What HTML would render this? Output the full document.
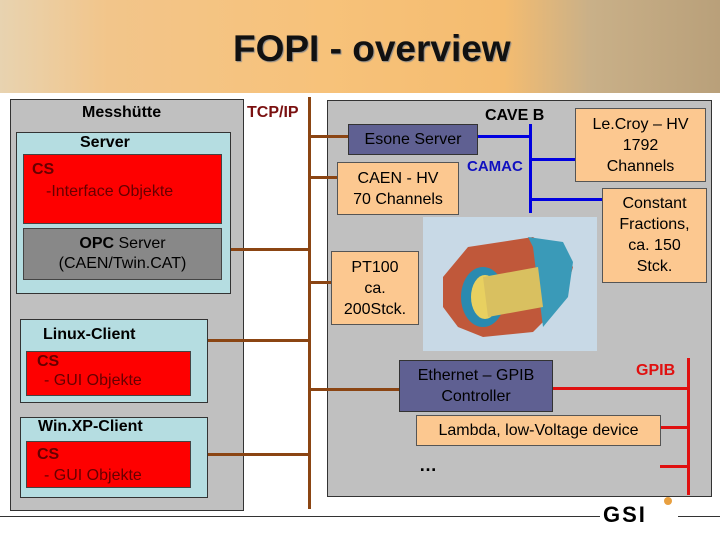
<!DOCTYPE html>
<html><head><meta charset="utf-8"><style>
body{margin:0;width:720px;height:540px;position:relative;overflow:hidden;background:#fff;font-family:"Liberation Sans",sans-serif}
.a{position:absolute;box-sizing:border-box}
.t{position:absolute;white-space:nowrap}
.box{border:1px solid #333}
.org{background:#fcc890;border:1px solid #555;text-align:center;font-size:16px;color:#000;line-height:21px}
.blu{background:#5f6092;border:1px solid #333;text-align:center;font-size:16px;color:#000;line-height:21px}
.red{background:#fe0000;border:1px solid #444;font-size:16px;color:#600}
.ln{position:absolute;background:#8b4513}
</style></head><body>
<div class="a" style="left:0;top:0;width:720px;height:93px;background:linear-gradient(90deg,#e8d3b0 0%,#f2c58a 15%,#f7c27a 45%,#f4bc70 70%,#c9b088 82%,#b9a07a 100%)"></div>
<div class="t" style="left:233px;top:28px;font-family:'Liberation Sans Narrow','Liberation Sans',sans-serif;font-weight:bold;font-size:37px;color:#111;text-shadow:1px 1px 1px #888">FOPI - overview</div>

<!-- Messhuette -->
<div class="a box" style="left:10px;top:99px;width:234px;height:412px;background:#c0c0c0"></div>
<div class="t" style="left:82px;top:104px;font-weight:bold;font-size:16px">Messhütte</div>
<div class="a box" style="left:16px;top:132px;width:215px;height:162px;background:#b5dde1"></div>
<div class="t" style="left:80px;top:134px;font-weight:bold;font-size:16px">Server</div>
<div class="a red" style="left:23px;top:154px;width:199px;height:70px"><div class="t" style="left:8px;top:6px;font-weight:bold">CS</div><div class="t" style="left:22px;top:28px">-Interface Objekte</div></div>
<div class="a" style="left:23px;top:228px;width:199px;height:52px;background:#888;border:1px solid #444;text-align:center;font-size:16px;line-height:20px;padding-top:5px"><b>OPC</b> Server<br>(CAEN/Twin.CAT)</div>
<div class="a box" style="left:20px;top:319px;width:188px;height:84px;background:#b5dde1"></div>
<div class="t" style="left:43px;top:326px;font-weight:bold;font-size:16px">Linux-Client</div>
<div class="a red" style="left:26px;top:351px;width:165px;height:45px"><div class="t" style="left:10px;top:1px;font-weight:bold">CS</div><div class="t" style="left:17px;top:20px">- GUI Objekte</div></div>
<div class="a box" style="left:20px;top:417px;width:188px;height:81px;background:#b5dde1"></div>
<div class="t" style="left:38px;top:418px;font-weight:bold;font-size:16px">Win.XP-Client</div>
<div class="a red" style="left:26px;top:441px;width:165px;height:47px"><div class="t" style="left:10px;top:4px;font-weight:bold">CS</div><div class="t" style="left:17px;top:25px">- GUI Objekte</div></div>

<!-- TCP/IP -->
<div class="t" style="left:247px;top:104px;font-weight:bold;font-size:16px;color:#7a1010">TCP/IP</div>
<div class="ln" style="left:308px;top:97px;width:3px;height:412px"></div>
<div class="ln" style="left:231px;top:248px;width:78px;height:3px"></div>
<div class="ln" style="left:208px;top:339px;width:101px;height:3px"></div>
<div class="ln" style="left:208px;top:453px;width:101px;height:3px"></div>

<!-- CAVE B -->
<div class="a box" style="left:327px;top:100px;width:385px;height:397px;background:#c0c0c0"></div>
<div class="ln" style="left:310px;top:135px;width:38px;height:3px"></div>
<div class="ln" style="left:310px;top:176px;width:27px;height:3px"></div>
<div class="ln" style="left:310px;top:281px;width:21px;height:3px"></div>
<div class="ln" style="left:310px;top:388px;width:89px;height:3px"></div>
<div class="t" style="left:485px;top:107px;font-weight:bold;font-size:16px">CAVE B</div>
<div class="a blu" style="left:348px;top:124px;width:130px;height:31px;padding-top:4px">Esone Server</div>
<div class="a org" style="left:337px;top:162px;width:122px;height:53px;padding-top:5px">CAEN - HV<br>70 Channels</div>
<div class="a" style="left:529px;top:124px;width:3px;height:89px;background:#0000e0"></div>
<div class="a" style="left:478px;top:135px;width:52px;height:3px;background:#0000e0"></div>
<div class="a" style="left:531px;top:158px;width:44px;height:3px;background:#0000e0"></div>
<div class="a" style="left:531px;top:198px;width:71px;height:3px;background:#0000e0"></div>
<div class="t" style="left:467px;top:158px;font-weight:bold;font-size:15px;color:#1010c0">CAMAC</div>
<div class="a org" style="left:575px;top:108px;width:131px;height:74px;padding-top:5px">Le.Croy – HV<br>1792<br>Channels</div>
<div class="a org" style="left:602px;top:188px;width:105px;height:95px;padding-top:4px">Constant<br>Fractions,<br>ca. 150<br>Stck.</div>
<div class="a" style="left:423px;top:217px;width:174px;height:134px;background:#c8d9e6">
<svg width="174" height="134"><polygon points="20,60 45,30 110,20 125,30 140,35 150,50 140,85 110,115 60,120 35,110 20,90" fill="#c0583a"/><polygon points="105,20 140,25 150,45 145,80 120,110 110,30" fill="#3a9ab8"/><ellipse cx="60" cy="80" rx="22" ry="30" fill="#2a8ab0"/><ellipse cx="62" cy="80" rx="14" ry="22" fill="#e8d060"/><polygon points="60,60 115,50 120,90 65,100" fill="#d9c060"/></svg></div>
<div class="a org" style="left:331px;top:251px;width:88px;height:74px;padding-top:5px">PT100<br>ca.<br>200Stck.</div>
<div class="a blu" style="left:399px;top:360px;width:154px;height:52px;padding-top:4px">Ethernet – GPIB<br>Controller</div>
<div class="a" style="left:687px;top:358px;width:3px;height:137px;background:#e01010"></div>
<div class="a" style="left:553px;top:387px;width:135px;height:3px;background:#e01010"></div>
<div class="a" style="left:660px;top:426px;width:28px;height:3px;background:#e01010"></div>
<div class="a" style="left:660px;top:465px;width:28px;height:3px;background:#e01010"></div>
<div class="t" style="left:636px;top:362px;font-weight:bold;font-size:16px;color:#e01010">GPIB</div>
<div class="a org" style="left:416px;top:415px;width:245px;height:31px;padding-top:4px">Lambda, low-Voltage device</div>
<div class="t" style="left:419px;top:455px;font-weight:bold;font-size:18px">…</div>

<div class="a" style="left:0;top:516px;width:600px;height:1px;background:#333"></div>
<div class="a" style="left:678px;top:516px;width:42px;height:1px;background:#333"></div>
<div class="t" style="left:603px;top:502px;font-weight:900;font-size:22px;letter-spacing:2px;color:#000;font-family:'Liberation Sans',sans-serif">GSI</div>
<div class="a" style="left:664px;top:497px;width:8px;height:8px;border-radius:50%;background:#e8a040"></div>
</body></html>
